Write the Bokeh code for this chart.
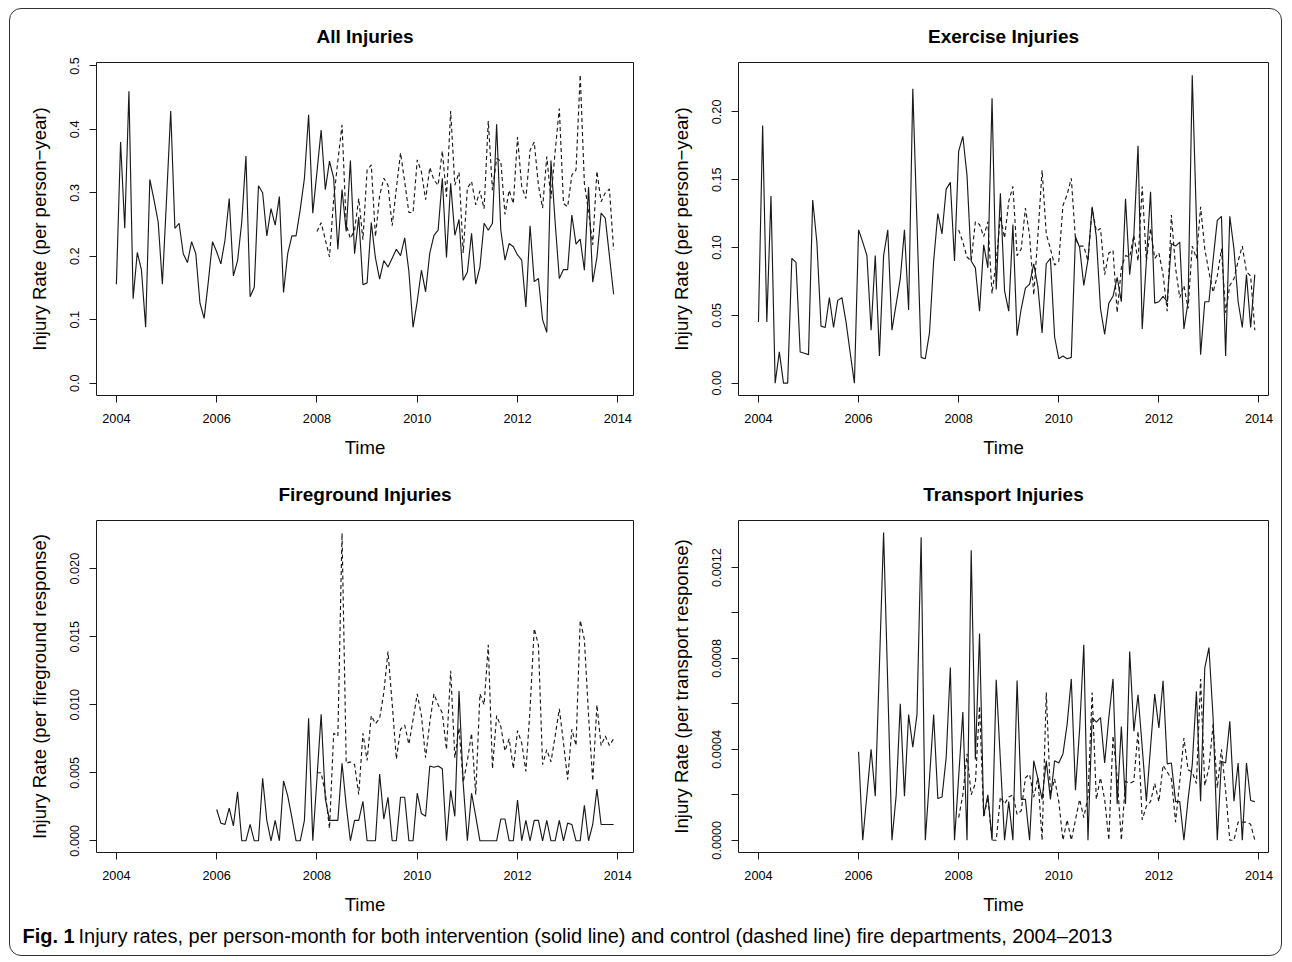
import numpy as np
from bokeh.plotting import figure
from bokeh.layouts import column, row
from bokeh.models import FixedTicker, Range1d, Label, PrintfTickFormatter, Div
from bokeh.embed import file_html
from bokeh.resources import INLINE

# ---------------- data (monthly rates) ----------------
# intervention series for All / Exercise: Jan 2004 .. Dec 2013 (120 months)
all_int = [0.156, 0.380, 0.244, 0.460, 0.133, 0.206, 0.178, 0.088, 0.321, 0.289, 0.254, 0.156,
           0.290, 0.429, 0.244, 0.252, 0.204, 0.190, 0.223, 0.204, 0.126, 0.102, 0.160, 0.223,
           0.207, 0.188, 0.226, 0.291, 0.169, 0.193, 0.254, 0.358, 0.136, 0.151, 0.311, 0.300,
           0.232, 0.275, 0.249, 0.294, 0.143, 0.204, 0.232, 0.232, 0.274, 0.323, 0.423, 0.268,
           0.333, 0.399, 0.305, 0.350, 0.323, 0.211, 0.305, 0.239, 0.351, 0.204, 0.262, 0.155,
           0.158, 0.253, 0.197, 0.164, 0.193, 0.183, 0.197, 0.211, 0.201, 0.229, 0.176, 0.088,
           0.129, 0.178, 0.144, 0.205, 0.233, 0.241, 0.323, 0.198, 0.315, 0.233, 0.258, 0.162,
           0.175, 0.236, 0.156, 0.183, 0.252, 0.241, 0.252, 0.408, 0.241, 0.194, 0.220, 0.215,
           0.202, 0.194, 0.120, 0.248, 0.160, 0.165, 0.100, 0.080, 0.351, 0.254, 0.165, 0.179,
           0.179, 0.265, 0.219, 0.227, 0.178, 0.309, 0.159, 0.198, 0.268, 0.260, 0.200, 0.140]
# control series: Jan 2008 .. Dec 2013 (72 months)
all_ctl = [0.239, 0.253, 0.226, 0.199, 0.290, 0.350, 0.407, 0.250, 0.228, 0.241, 0.291, 0.226,
           0.336, 0.344, 0.231, 0.296, 0.323, 0.312, 0.248, 0.307, 0.363, 0.317, 0.269, 0.269,
           0.352, 0.333, 0.289, 0.340, 0.320, 0.312, 0.366, 0.294, 0.429, 0.312, 0.332, 0.205,
           0.307, 0.318, 0.281, 0.303, 0.275, 0.413, 0.304, 0.354, 0.350, 0.266, 0.304, 0.283,
           0.388, 0.310, 0.291, 0.367, 0.380, 0.312, 0.276, 0.357, 0.291, 0.365, 0.433, 0.283,
           0.278, 0.328, 0.336, 0.486, 0.315, 0.270, 0.218, 0.334, 0.286, 0.300, 0.306, 0.210]

ex_int = [0.045, 0.190, 0.045, 0.138, 0.000, 0.023, 0.000, 0.000, 0.092, 0.089, 0.023, 0.022,
          0.021, 0.135, 0.104, 0.042, 0.041, 0.063, 0.041, 0.061, 0.063, 0.045, 0.022, 0.000,
          0.113, 0.104, 0.094, 0.039, 0.094, 0.020, 0.094, 0.113, 0.039, 0.058, 0.077, 0.113,
          0.054, 0.217, 0.118, 0.019, 0.018, 0.037, 0.090, 0.125, 0.110, 0.143, 0.148, 0.090,
          0.171, 0.182, 0.153, 0.090, 0.085, 0.053, 0.102, 0.085, 0.210, 0.069, 0.140, 0.068,
          0.053, 0.117, 0.035, 0.055, 0.070, 0.073, 0.088, 0.071, 0.037, 0.088, 0.092, 0.034,
          0.018, 0.020, 0.018, 0.019, 0.108, 0.100, 0.072, 0.091, 0.130, 0.108, 0.055, 0.036,
          0.059, 0.064, 0.078, 0.060, 0.136, 0.080, 0.109, 0.175, 0.040, 0.090, 0.141, 0.059,
          0.060, 0.064, 0.060, 0.103, 0.101, 0.104, 0.040, 0.060, 0.227, 0.120, 0.021, 0.060,
          0.060, 0.091, 0.120, 0.123, 0.020, 0.123, 0.099, 0.060, 0.041, 0.080, 0.041, 0.080]
ex_ctl = [0.113, 0.104, 0.093, 0.090, 0.119, 0.117, 0.108, 0.119, 0.066, 0.090, 0.123, 0.107,
          0.134, 0.145, 0.094, 0.099, 0.129, 0.109, 0.065, 0.109, 0.157, 0.110, 0.099, 0.087,
          0.090, 0.131, 0.139, 0.151, 0.106, 0.101, 0.101, 0.090, 0.129, 0.112, 0.114, 0.080,
          0.096, 0.098, 0.052, 0.085, 0.094, 0.093, 0.109, 0.090, 0.145, 0.090, 0.114, 0.092,
          0.096, 0.080, 0.053, 0.124, 0.085, 0.063, 0.072, 0.055, 0.101, 0.092, 0.130, 0.099,
          0.082, 0.067, 0.079, 0.099, 0.052, 0.072, 0.077, 0.090, 0.101, 0.082, 0.079, 0.039]

# intervention series for Fireground / Transport: Jan 2006 .. Dec 2013 (96 months)
fire_int = [0.0023, 0.0013, 0.0012, 0.0024, 0.0011, 0.0036, 0.0, 0.0, 0.0012, 0.0, 0.0, 0.0046,
            0.0015, 0.0, 0.0015, 0.0, 0.0044, 0.0033, 0.0017, 0.0, 0.0, 0.0015, 0.0090, 0.0,
            0.0046, 0.0093, 0.0031, 0.0015, 0.0015, 0.0015, 0.0057, 0.0026, 0.0, 0.0015, 0.0015, 0.0029,
            0.0, 0.0, 0.0, 0.0049, 0.0016, 0.0032, 0.0, 0.0, 0.0032, 0.0032, 0.0, 0.0,
            0.0035, 0.0020, 0.0018, 0.0055, 0.0054, 0.0055, 0.0053, 0.0, 0.0037, 0.0018, 0.0110, 0.0042,
            0.0, 0.0035, 0.0018, 0.0, 0.0, 0.0, 0.0, 0.0, 0.0016, 0.0016, 0.0, 0.0,
            0.0030, 0.0, 0.0015, 0.0, 0.0015, 0.0015, 0.0, 0.0015, 0.0, 0.0, 0.0015, 0.0,
            0.0013, 0.0012, 0.0, 0.0, 0.0026, 0.0, 0.0012, 0.0038, 0.0012, 0.0012, 0.0012, 0.0012]
fire_ctl = [0.0050, 0.0050, 0.0035, 0.0009, 0.0079, 0.0077, 0.0226, 0.0057, 0.0058, 0.0056, 0.0034, 0.0079,
            0.0059, 0.0092, 0.0086, 0.0090, 0.0109, 0.0139, 0.0101, 0.0060, 0.0082, 0.0085, 0.0071, 0.0089,
            0.0108, 0.0092, 0.0061, 0.0087, 0.0108, 0.0100, 0.0094, 0.0067, 0.0125, 0.0061, 0.0083, 0.0043,
            0.0059, 0.0079, 0.0034, 0.0108, 0.0100, 0.0144, 0.0053, 0.0092, 0.0084, 0.0066, 0.0075, 0.0053,
            0.0081, 0.0072, 0.0051, 0.0097, 0.0156, 0.0144, 0.0056, 0.0067, 0.0058, 0.0077, 0.0097, 0.0072,
            0.0045, 0.0082, 0.0070, 0.0162, 0.0148, 0.0092, 0.0044, 0.0100, 0.0070, 0.0077, 0.0070, 0.0075]

trans_int = [0.000389, 0.0, 0.00020, 0.00040, 0.000194, 0.00077, 0.001354, 0.00068, 0.0, 0.000194, 0.00060, 0.000194,
             0.000553, 0.00041, 0.000553, 0.001333, 0.0, 0.00027, 0.000553, 0.000184, 0.00019, 0.000363, 0.00076, 0.0,
             0.00028, 0.000564, 0.0, 0.001276, 0.000355, 0.00091, 0.000107, 0.00020, 0.0, 0.000706, 0.00035, 0.0,
             0.00017, 0.0, 0.000703, 0.00018, 0.00018, 0.0, 0.00035, 0.00027, 0.00018, 0.00035, 0.00018, 0.00035,
             0.00034, 0.00038, 0.00051, 0.00071, 0.00022, 0.00049, 0.00086, 0.0, 0.00054, 0.00052, 0.00054, 0.00034,
             0.00054, 0.00071, 0.00016, 0.00050, 0.00016, 0.00083, 0.00048, 0.00064, 0.00041, 0.000172, 0.00041, 0.000643,
             0.000494, 0.000702, 0.000336, 0.00034, 0.00017, 0.00017, 0.0, 0.00018, 0.000333, 0.000655, 0.000172, 0.000757,
             0.000848, 0.000538, 0.0, 0.000348, 0.00034, 0.000523, 0.000172, 0.00034, 0.0, 0.00034, 0.000175, 0.00017]
trans_ctl = [0.00010, 0.00020, 0.00038, 0.00020, 0.00025, 0.00059, 0.00010, 0.00019, 0.0, 0.0, 0.00019, 0.00016,
             0.00019, 0.00020, 0.000114, 0.00013, 0.000275, 0.00029, 0.00019, 0.000275, 0.0, 0.00065, 0.00020, 0.00027,
             0.00017, 0.0, 0.00009, 0.0, 0.00009, 0.00018, 0.00010, 0.00019, 0.00065, 0.00018, 0.000275, 0.00018,
             0.0, 0.00046, 0.000275, 0.0, 0.00026, 0.00025, 0.00026, 0.00048, 0.00009, 0.00015, 0.00017, 0.00025,
             0.00017, 0.00033, 0.00030, 0.00027, 0.00008, 0.00026, 0.00045, 0.00031, 0.00030, 0.00025, 0.00071, 0.00024,
             0.00032, 0.00051, 0.00023, 0.00040, 0.00022, 0.0, 0.0, 0.00008, 0.00008, 0.00008, 0.00007, 0.0]

x_ticks = [2004, 2006, 2008, 2010, 2012, 2014]
titles = ["All Injuries", "Exercise Injuries", "Fireground Injuries", "Transport Injuries"]
ylabels = ["Injury Rate (per person\u2212year)", "Injury Rate (per person\u2212year)",
           "Injury Rate (per fireground response)", "Injury Rate (per transport response)"]
caption_bold = "Fig. 1"
caption_text = ("Injury rates, per person-month for both intervention (solid line) and control "
                "(dashed line) fire departments, 2004\u20132013")


def months(start_year, n):
    return start_year + np.arange(n) / 12.0


FONT = "Liberation Sans"
INK = "#1a1a1a"


def panel(title, ylabel, y_int, y_ctl, int_start, yr, yticks, yfmt, xr,
          w, h, mbl, mbr, mbt, mbb, minor=None):
    p = figure(width=w, height=h, output_backend="svg", toolbar_location=None,
               x_range=Range1d(*xr), y_range=Range1d(*yr),
               min_border_left=mbl, min_border_right=mbr,
               min_border_top=mbt, min_border_bottom=mbb)
    p.background_fill_color = "white"
    p.border_fill_color = None
    p.outline_line_color = INK
    p.outline_line_width = 1
    p.xgrid.grid_line_color = None
    p.ygrid.grid_line_color = None

    p.title.text = title
    p.title.align = "center"
    p.title.text_font = FONT
    p.title.text_font_size = "19px"
    p.title.text_font_style = "bold"
    p.title.text_color = "black"
    p.title.standoff = 31

    ti = months(int_start, len(y_int))
    tc = months(2008, len(y_ctl))
    p.line(tc, y_ctl, line_color=INK, line_width=1.15, line_dash="4 3")
    p.line(ti, y_int, line_color=INK, line_width=1.15)

    xa = p.xaxis[0]
    xa.ticker = FixedTicker(ticks=x_ticks)
    xa.axis_label = "Time"
    ya = p.yaxis[0]
    ya.ticker = FixedTicker(ticks=yticks, minor_ticks=minor or [])
    ya.formatter = PrintfTickFormatter(format=yfmt)
    ya.axis_label = ylabel
    ya.major_label_orientation = "parallel"

    for ax in (xa, ya):
        ax.axis_line_color = None
        ax.major_tick_line_color = INK
        ax.major_tick_out = 7
        ax.major_tick_in = 0
        ax.minor_tick_line_color = INK if (ax is ya and minor) else None
        ax.minor_tick_out = 7
        ax.minor_tick_in = 0
        ax.major_label_text_font = FONT
        ax.major_label_text_font_size = "12.7px"
        ax.major_label_text_color = "black"
        ax.axis_label_text_font = FONT
        ax.axis_label_text_font_size = "18.6px"
        ax.axis_label_text_font_style = "normal"
        ax.axis_label_text_color = "black"
    xa.major_label_standoff = 11
    xa.axis_label_standoff = 11
    ya.major_label_standoff = 10
    ya.axis_label_standoff = 18
    return p


XR_L = (2003.603, 2014.313)
XR_R = (2003.601, 2014.19)

W1, W2 = 662, 621
H1, H2, H3 = 466, 454, 30

p1 = panel(titles[0], ylabels[0], all_int, all_ctl, 2004, (-0.0195, 0.5054),
           [0, 0.1, 0.2, 0.3, 0.4, 0.5], "%.1f", XR_L, W1, H1, 96, 29, 62, 71)
p2 = panel(titles[1], ylabels[1], ex_int, ex_ctl, 2004, (-0.00913, 0.2364),
           [0, 0.05, 0.10, 0.15, 0.20], "%.2f", XR_R, W2, H1, 76, 15, 62, 71)
p3 = panel(titles[2], ylabels[2], fire_int, fire_ctl, 2006, (-0.00086, 0.02354),
           [0, 0.005, 0.010, 0.015, 0.020], "%.3f", XR_L, W1, H2, 96, 29, 53, 68)
p4 = panel(titles[3], ylabels[3], trans_int, trans_ctl, 2006, (-0.0000539, 0.001407),
           [0, 0.0004, 0.0008, 0.0012], "%.4f", XR_R, W2, H2, 76, 15, 53, 68,
           minor=[0.0002, 0.0006, 0.0010])

cap = figure(width=W1 + W2, height=H3, output_backend="svg", toolbar_location=None,
             x_range=Range1d(0, W1 + W2), y_range=Range1d(0, H3),
             x_axis_type=None, y_axis_type=None, min_border=0)
cap.outline_line_color = None
cap.xgrid.grid_line_color = None
cap.ygrid.grid_line_color = None
cap.border_fill_color = None
cap.background_fill_color = None
cap.add_layout(Label(x=22, y=15, text=caption_bold, text_font=FONT, text_font_size="20px",
                     text_font_style="bold", text_baseline="middle", text_color="black"))
cap.add_layout(Label(x=78, y=15, text=caption_text, text_font=FONT, text_font_size="20px",
                     text_baseline="middle", text_color="black"))

frame_box = Div(width=0, height=0,
                text='<div style="position:fixed;left:9px;top:8px;width:1273px;height:948px;'
                     'box-sizing:border-box;border:1.3px solid #333;border-radius:12px;'
                     'pointer-events:none;z-index:10;"></div>')

layout = column(row(p1, p2), row(p3, p4), cap, frame_box)

open("out.html", "w").write(file_html(layout, INLINE, title="Injury rates"))
